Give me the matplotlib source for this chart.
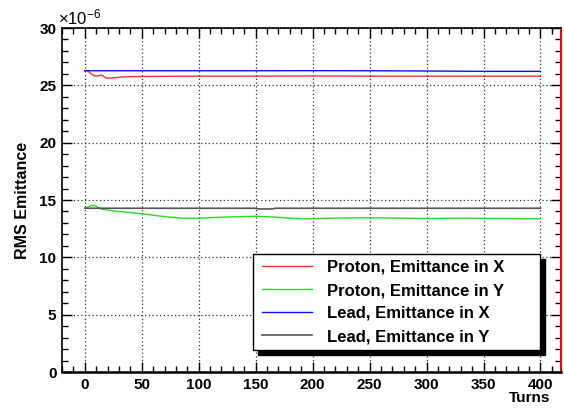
import matplotlib
matplotlib.use("Agg")
import matplotlib.pyplot as plt
from matplotlib.patches import Rectangle
from matplotlib.ticker import MultipleLocator

plt.rcParams["font.family"] = ["Liberation Sans", "DejaVu Sans"]
plt.rcParams["mathtext.default"] = "regular"

# ---- data (emittance in units of 1e-6) ----
px_turns = [0, 2, 5, 8, 10, 13, 15, 17, 19, 25, 32, 40, 60, 100, 150, 200, 250, 300, 350, 400]
px_vals = [26.25, 26.3, 26.05, 25.85, 25.8, 25.85, 25.9, 25.75, 25.62, 25.65, 25.72, 25.76,
           25.78, 25.8, 25.8, 25.82, 25.8, 25.8, 25.8, 25.8]

py_turns = [0, 3, 7, 10, 15, 25, 40, 50, 70, 85, 100, 120, 150, 165, 190, 225, 250, 275,
            300, 330, 350, 375, 400]
py_vals = [14.28, 14.4, 14.55, 14.45, 14.2, 14.05, 13.9, 13.8, 13.55, 13.42, 13.42, 13.5,
           13.58, 13.52, 13.35, 13.43, 13.45, 13.42, 13.38, 13.42, 13.4, 13.38, 13.36]

lx_turns = [0, 50, 100, 150, 200, 250, 300, 350, 400]
lx_vals = [26.27, 26.27, 26.27, 26.27, 26.28, 26.27, 26.25, 26.22, 26.22]

ly_turns = [0, 150, 152, 165, 167, 400]
ly_vals = [14.28, 14.28, 14.22, 14.22, 14.28, 14.28]

labels = ["Proton, Emittance in X", "Proton, Emittance in Y",
          "Lead, Emittance in X", "Lead, Emittance in Y"]

W, H = 564, 409
fig = plt.figure(figsize=(W / 100, H / 100), dpi=100)
ax = fig.add_axes([62 / W, 1 - 372 / H, (561 - 62) / W, (372 - 28) / H])

l1, = ax.plot(px_turns, px_vals, color="#ff3030", lw=1.0)
l2, = ax.plot(py_turns, py_vals, color="#20e020", lw=1.0)
l3, = ax.plot(lx_turns, lx_vals, color="#1010ff", lw=1.0)
l4, = ax.plot(ly_turns, ly_vals, color="#555555", lw=1.2)

ax.set_xlim(-20, 418)
ax.set_ylim(0, 30)
ax.xaxis.set_major_locator(MultipleLocator(50))
ax.xaxis.set_minor_locator(MultipleLocator(10))
ax.yaxis.set_major_locator(MultipleLocator(5))
ax.yaxis.set_minor_locator(MultipleLocator(1))
ax.tick_params(which="both", direction="in", top=True, right=True, width=1)
ax.tick_params(which="major", length=7, labelsize=11, pad=4)
ax.tick_params(which="minor", length=4)
for lab in ax.get_xticklabels() + ax.get_yticklabels():
    lab.set_fontweight("bold")
ax.grid(True, which="major", ls=(0, (1, 2)), color="#333333", lw=0.9)

for s in ["left", "top", "bottom"]:
    ax.spines[s].set_linewidth(1.2)
ax.spines["bottom"].set_linewidth(1.8)
ax.spines["right"].set_color("red")
ax.spines["right"].set_linewidth(1.5)

ax.set_ylabel("RMS Emittance", fontweight="bold", fontsize=11.5, labelpad=7)
fig.text(550 / W, 1 - 398 / H, "Turns", fontweight="bold", fontsize=11, ha="right", va="center")
fig.text(58 / W, 1 - 17 / H, r"$\times10^{-6}$", fontsize=12, ha="left", va="center")

# legend box with ROOT-style solid shadow
bx0, bx1, by0, by1 = 253, 540, 254, 350
fig.patches.append(Rectangle(((bx0 + 5) / W, 1 - (by1 + 5) / H), (bx1 - bx0) / W, (by1 - by0) / H,
                             transform=fig.transFigure, facecolor="black", edgecolor="black",
                             zorder=5))
fig.patches.append(Rectangle((bx0 / W, 1 - by1 / H), (bx1 - bx0) / W, (by1 - by0) / H,
                             transform=fig.transFigure, facecolor="white", edgecolor="black",
                             lw=1.0, zorder=6))
leg = fig.legend([l1, l2, l3, l4], labels, loc="center left",
                 bbox_to_anchor=((bx0 + 1) / W, 1 - (by0 + by1) / 2 / H),
                 frameon=False, prop={"weight": "bold", "size": 12},
                 handlelength=3.0, handletextpad=0.9, labelspacing=0.48, borderpad=0)
leg.set_zorder(7)

fig.savefig("out.png", dpi=100)
